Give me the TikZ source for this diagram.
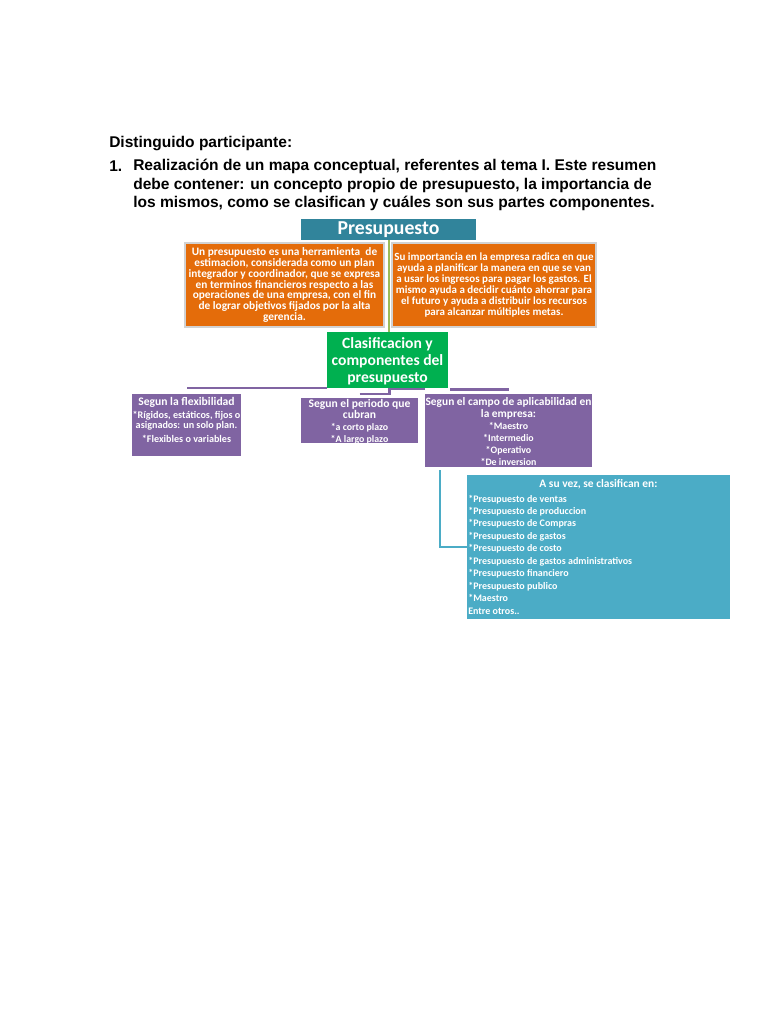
\documentclass[tikz,border=0pt]{standalone}
\usepackage{fontspec}
\setmainfont{Carlito}
\newfontfamily\arialf{Liberation Sans}
\usetikzlibrary{calc}
\definecolor{tealT}{HTML}{31849B}
\definecolor{orangeB}{HTML}{E46C0A}
\definecolor{greenB}{HTML}{00B050}
\definecolor{purpleB}{HTML}{8064A2}
\definecolor{tealL}{HTML}{4BACC6}
\definecolor{oliveL}{HTML}{9BBB59}
\begin{document}
\begin{tikzpicture}[x=0.75pt,y=-0.75pt,
  box/.style={rectangle,inner sep=0pt,outer sep=0pt},
  wtext/.style={inner sep=0pt,text=white,align=center},
  head/.style={inner sep=0pt,anchor=west,align=left,font=\arialf\bfseries\fontsize{11.65}{13.9}\selectfont},
  pline/.style={draw=purpleB,line width=1.8pt},
  tline/.style={draw=tealL,line width=2.2pt},
  oline/.style={draw=oliveL,line width=1.5pt}]
\useasboundingbox[fill=white] (0,0) rectangle (768,1024);

% heading
\node[head] (h1) at (109,144) {Distinguido participante:};
\node[head] (h2) at (109,166) {1.};
\node[head] (h3) at (133,185) {Realización de un mapa conceptual, referentes al tema I. Este resumen\\debe contener: un concepto propio de presupuesto, la importancia de\\los mismos, como se clasifican y cuáles son sus partes componentes.};

% boxes
\node[box,fill=tealT,minimum width=131.25pt,minimum height=15.75pt,text=white,font=\bfseries\fontsize{14.8}{14.8}\selectfont] (pr) at (388.5,229.5) {Presupuesto};

\node[box,fill=orangeB,draw=gray!35,line width=1pt,minimum width=149.25pt,minimum height=63pt] (ol) at (284.5,285) {};
\node[wtext,font=\bfseries\fontsize{8.5}{8.2}\selectfont] (olt) at (ol.center) {Un presupuesto es una herramienta \ de\\estimacion, considerada como un plan\\integrador y coordinador, que se expresa\\en terminos financieros respecto a las\\operaciones de una empresa, con el fin\\de lograr objetivos fijados por la alta\\gerencia.};

\node[box,fill=orangeB,draw=gray!35,line width=1pt,minimum width=153pt,minimum height=63pt] (or) at (494,285) {};
\node[wtext,font=\bfseries\fontsize{8.25}{8.3}\selectfont] (ort) at (or.center) {Su importancia en la empresa radica en que\\ayuda a planificar la manera en que se van\\a usar los ingresos para pagar los gastos. El\\mismo ayuda a decidir cuánto ahorrar para\\el futuro y ayuda a distribuir los recursos\\para alcanzar múltiples metas.};

\node[box,fill=greenB,minimum width=90.75pt,minimum height=42pt] (c) at (387.5,360) {};
\node[wtext,font=\bfseries\fontsize{11.7}{12.8}\selectfont] (ct) at ($(c.center)+(0,1)$) {Clasificacion y\\componentes del\\presupuesto};

\node[box,fill=purpleB,minimum width=81.75pt,minimum height=46.5pt] (f) at (186.5,425) {};
\node[wtext,font=\bfseries\fontsize{8.7}{9}\selectfont] (fh) at (186.5,402) {Segun la flexibilidad};
\node[wtext,font=\bfseries\fontsize{7.6}{6.5}\selectfont] (fi) at (186.5,426.5) {*Rígidos, estáticos, fijos o\\asignados: un solo plan.\\[2.6pt]*Flexibles o variables};

\node[box,fill=purpleB,minimum width=87.75pt,minimum height=33.75pt] (p) at (359.5,420.5) {};
\node[wtext,font=\bfseries\fontsize{8.7}{8.25}\selectfont] (ph) at (359.5,409) {Segun el periodo que\\cubran};
\node[wtext,font=\bfseries\fontsize{7.4}{9}\selectfont] (pi) at (359.5,433.5) {*a corto plazo\\*A largo plazo};

\node[box,fill=purpleB,minimum width=125.25pt,minimum height=54.75pt] (r) at (508.5,430.5) {};
\node[wtext,font=\bfseries\fontsize{8.55}{9}\selectfont] (rh) at (508.5,408.5) {Segun el campo de aplicabilidad en\\la empresa:};
\node[wtext,font=\bfseries\fontsize{7.4}{9.2}\selectfont] (ri) at (508.5,444) {*Maestro\\*Intermedio\\*Operativo\\*De inversion};

\node[box,fill=tealL,minimum width=197.25pt,minimum height=108pt] (t) at (598.5,547) {};
\node[wtext,font=\bfseries\fontsize{8.6}{9}\selectfont] (th) at (598.5,484.5) {A su vez, se clasifican en:};
\node[wtext,anchor=west,align=left,font=\bfseries\fontsize{7.5}{9.33}\selectfont] (ti) at (468,554.5) {*Presupuesto de ventas\\*Presupuesto de produccion\\*Presupuesto de Compras\\*Presupuesto de gastos\\*Presupuesto de costo\\*Presupuesto de gastos administrativos\\*Presupuesto financiero\\*Presupuesto publico\\*Maestro\\Entre otros..};

% connectors
\draw[oline] (pr.south) -- (pr.south |- c.north);
\draw[pline] (c.south west) -- (c.south west -| f.north);
\draw[pline] ($(p.north)+(0,-4)$) -| ($(c.south)+(2,1)$) -- ($(c.south -| r.north west)+(0,1)$);
\draw[pline] ($(c.south east)+(2,1.5)$) -- ($(c.south east -| r.north)+(0,1.5)$);
\draw[tline] ($(r.south west)+(15,3)$) |- (t.west);
\end{tikzpicture}
\end{document}
